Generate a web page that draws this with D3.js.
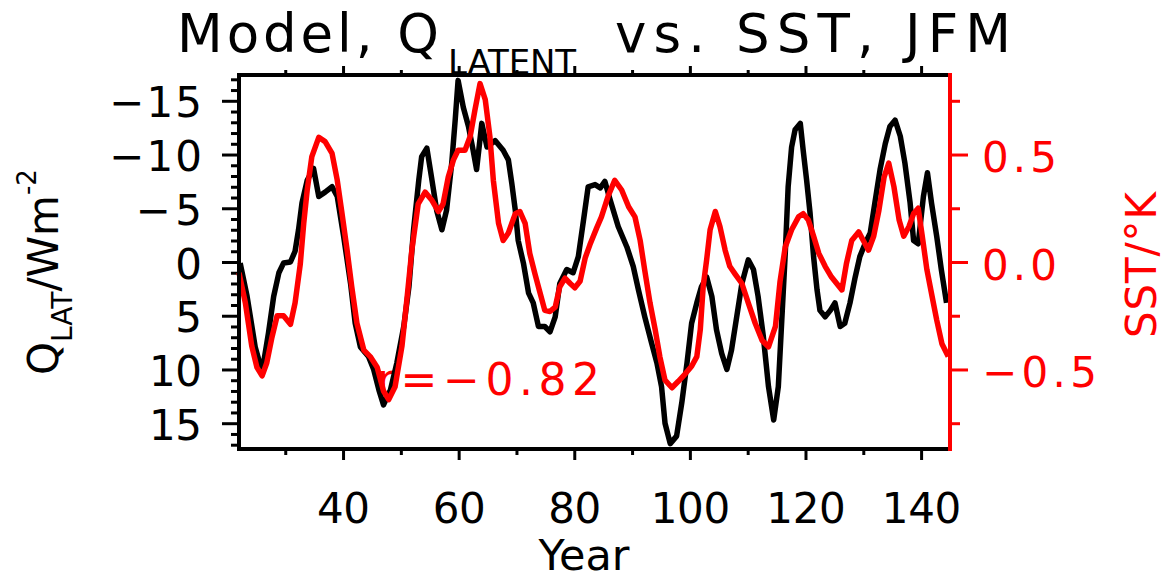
<!DOCTYPE html>
<html>
<head>
<meta charset="utf-8">
<script src="https://cdn.jsdelivr.net/npm/d3@7/dist/d3.min.js"></script>
<style>
  html, body { margin: 0; padding: 0; background: #fff; }
  svg { display: block; }
</style>
</head>
<body>
<script>
// Model latent heat flux (black, left axis, reversed) and SST anomaly (red, right axis), JFM
const qYear = [22.2,23.4,24.8,26.0,27.1,28.0,28.9,29.7,30.9,31.7,32.3,32.9,33.8,34.9,35.8,36.9,38.1,39.0,40.1,41.3,
  42.1,43.0,44.4,45.3,46.2,47.0,48.2,49.3,50.5,51.4,52.2,53.1,53.6,54.5,55.3,56.2,57.1,57.9,58.8,59.4,
  59.9,60.8,61.7,62.5,63.1,64.0,64.9,66.3,67.7,68.6,69.2,69.8,70.3,71.2,72.1,72.9,73.8,74.9,75.8,76.7,
  77.5,78.7,79.8,80.7,81.6,82.4,83.6,84.5,85.3,86.2,87.6,89.1,90.2,91.1,92.2,93.4,94.3,95.1,95.7,96.6,
  97.7,98.6,99.5,100.3,101.2,102.0,102.9,103.8,104.6,105.5,106.4,107.2,108.1,109.0,110.1,111.0,111.8,112.7,113.6,114.5,
  115.3,115.9,116.5,117.0,117.6,118.2,119.1,119.6,120.2,120.8,121.4,122.0,122.5,123.4,124.3,125.1,126.0,126.8,127.7,128.6,
  129.4,130.3,131.2,132.0,132.9,133.8,134.6,135.5,136.4,137.2,138.1,138.7,139.5,140.4,141.1,141.8,142.7,143.5,144.4];
const qFlux = [0.1,3.2,7.9,10.2,6.6,3.2,1.0,0.1,0.0,-1.0,-3.0,-5.5,-7.6,-8.7,-6.1,-6.5,-7.0,-6.1,-2.4,2.0,
  5.7,7.9,8.8,10.0,11.9,13.3,11.9,9.4,6.0,2.3,-3.0,-7.6,-9.8,-10.6,-7.9,-4.8,-3.0,-4.8,-9.2,-13.2,
  -16.9,-14.4,-12.6,-10.4,-8.6,-12.9,-10.7,-11.3,-10.4,-9.5,-7.3,-4.8,-2.0,0.1,2.9,3.8,6.0,6.0,6.5,5.1,
  2.0,0.7,1.0,-0.5,-3.9,-7.0,-7.2,-6.9,-7.5,-5.8,-3.3,-1.4,0.4,2.6,5.1,7.6,9.4,11.6,15.0,16.9,
  16.2,13.1,9.4,5.7,3.8,2.3,1.4,3.2,6.3,8.5,10.0,8.2,5.1,2.0,-0.2,0.7,3.2,6.9,11.6,14.7,
  11.6,5.4,-0.8,-7.0,-10.7,-12.3,-12.9,-10.4,-7.6,-4.5,-0.5,2.6,4.5,5.1,4.5,3.8,6.0,5.7,3.8,1.4,
  -0.5,-1.7,-2.7,-5.5,-8.6,-11.0,-12.6,-13.2,-11.7,-9.2,-5.5,-2.0,-1.7,-6.1,-8.3,-5.5,-2.4,0.7,3.8];

const sstYear = [22.0,23.1,24.2,25.1,26.0,26.8,27.7,28.6,29.7,30.9,31.7,32.6,33.2,33.8,34.6,35.8,36.9,38.1,39.0,39.8,
  40.7,41.5,42.4,43.6,44.7,45.9,47.0,47.9,49.0,50.2,51.1,51.9,53.0,54.2,55.3,56.5,57.3,58.2,59.1,59.9,
  61.1,62.0,62.8,63.7,64.6,65.4,66.0,66.9,67.7,68.6,69.8,70.6,71.5,72.3,73.2,74.1,74.9,75.8,76.7,77.5,
  78.4,79.3,80.1,81.0,81.9,82.7,83.9,84.7,85.9,87.0,88.2,89.4,90.5,91.4,92.2,93.1,94.0,94.8,95.7,96.9,
  98.0,99.2,100.3,101.2,101.8,102.3,102.9,103.5,104.4,105.2,106.1,106.9,107.8,109.0,110.1,111.3,112.5,113.6,114.8,115.6,
  116.5,117.6,118.8,119.6,120.5,121.4,122.3,123.4,124.5,125.4,126.3,127.1,128.0,129.2,130.0,130.9,131.8,132.7,133.6,134.4,
  135.3,136.2,137.0,137.9,138.7,139.5,140.2,141.0,141.9,142.7,143.6,144.7];
const sstAnom = [-0.05,-0.19,-0.39,-0.49,-0.53,-0.47,-0.35,-0.25,-0.25,-0.29,-0.19,-0.01,0.18,0.335,0.49,0.58,0.56,0.505,0.38,0.23,
  0.055,-0.115,-0.285,-0.41,-0.44,-0.49,-0.60,-0.64,-0.58,-0.39,-0.16,0.055,0.27,0.325,0.29,0.235,0.27,0.395,0.475,0.52,
  0.52,0.585,0.705,0.83,0.755,0.585,0.38,0.18,0.10,0.135,0.225,0.235,0.18,0.04,-0.055,-0.145,-0.225,-0.23,-0.21,-0.115,
  -0.075,-0.10,-0.12,-0.09,0.02,0.08,0.16,0.21,0.31,0.38,0.335,0.257,0.21,0.10,-0.04,-0.19,-0.315,-0.44,-0.55,-0.585,
  -0.555,-0.52,-0.485,-0.44,-0.315,-0.115,0.01,0.15,0.235,0.165,0.055,-0.02,-0.055,-0.10,-0.19,-0.285,-0.365,-0.395,-0.30,-0.09,
  0.07,0.15,0.21,0.225,0.195,0.12,0.04,-0.02,-0.07,-0.10,-0.13,-0.005,0.10,0.14,0.10,0.055,0.12,0.24,0.395,0.46,
  0.35,0.195,0.12,0.165,0.225,0.25,0.12,-0.035,-0.16,-0.27,-0.38,-0.44];

// Axis ticks
const xMajor = [40, 60, 80, 100, 120, 140];
const xMinor = [30, 50, 70, 90, 110, 130];
const qMajor = [-15, -10, -5, 0, 5, 10, 15];
const qMinor = [-17,-16,-14,-13,-12,-11,-9,-8,-7,-6,-4,-3,-2,-1,1,2,3,4,6,7,8,9,11,12,13,14,16,17];
const sstMajor = [-0.5, 0.0, 0.5];
const sstMinor = [-0.75, -0.25, 0.25, 0.75];

const corrLabel = "r=\u22120.82";

const FONT = "'DejaVu Sans', 'Liberation Sans', sans-serif";
const RED = "#ff0000";

const svg = d3.select("body").append("svg")
  .attr("width", 1168).attr("height", 582)
  .style("background", "#fff");

const x = d3.scaleLinear().domain([22, 145]).range([239, 950]);
const yQ = d3.scaleLinear().domain([-17.4, 17.4]).range([75, 449]);
const yT = d3.scaleLinear().domain([0.87, -0.87]).range([75, 449]);

// wide bitmap-style spacing for tick labels
const charW = c => (c === "." ? 22 : (c === "\u2212" || c === "-") ? 40 : 26.5);
const labelLen = s => d3.sum(Array.from(s), charW);

function styleLabels(g, size) {
  g.selectAll(".tick text")
    .attr("font-family", FONT)
    .attr("font-size", size)
    .each(function () {
      const t = d3.select(this);
      const s = t.text();
      if (s.length > 1) t.attr("textLength", labelLen(s)).attr("lengthAdjust", "spacing");
    });
}

// Title
svg.append("text").attr("x", 177).attr("y", 52)
  .attr("font-family", FONT).attr("font-size", 53)
  .attr("textLength", 262).attr("lengthAdjust", "spacing")
  .text("Model, Q");
svg.append("text").attr("x", 448).attr("y", 74)
  .attr("font-family", FONT).attr("font-size", 34)
  .attr("textLength", 128).attr("lengthAdjust", "spacing")
  .text("LATENT");
svg.append("text").attr("x", 615).attr("y", 52)
  .attr("font-family", FONT).attr("font-size", 53)
  .attr("textLength", 396).attr("lengthAdjust", "spacing")
  .text("vs. SST, JFM");

// Bottom axis
svg.append("g").attr("transform", "translate(0,449)")
  .call(d3.axisBottom(x).tickValues(xMinor).tickSize(6).tickFormat(""));
const gxMajor = svg.append("g").attr("transform", "translate(0,449)")
  .call(d3.axisBottom(x).tickValues(xMajor).tickSize(11).tickFormat(d3.format("d")));
gxMajor.selectAll(".tick text").attr("y", 74).attr("dy", null);
styleLabels(gxMajor, 42);

// Top axis
svg.append("g").attr("transform", "translate(0,75)")
  .call(d3.axisTop(x).tickValues(xMinor).tickSize(5).tickFormat(""));
svg.append("g").attr("transform", "translate(0,75)")
  .call(d3.axisTop(x).tickValues(xMajor).tickSize(9).tickFormat(""));

// Left axis (latent heat flux, positive downwards)
svg.append("g").attr("transform", "translate(239,0)")
  .call(d3.axisLeft(yQ).tickValues(qMinor).tickSize(8).tickFormat(""));
const gyMajor = svg.append("g").attr("transform", "translate(239,0)")
  .call(d3.axisLeft(yQ).tickValues(qMajor).tickSize(17).tickFormat(d3.format("d")));
gyMajor.selectAll(".tick text").attr("x", -37).attr("dy", 16);
styleLabels(gyMajor, 42);

// Right axis (SST)
svg.append("g").attr("transform", "translate(950,0)").attr("color", RED)
  .call(d3.axisRight(yT).tickValues(sstMinor).tickSize(10).tickFormat(""));
const grMajor = svg.append("g").attr("transform", "translate(950,0)").attr("color", RED)
  .call(d3.axisRight(yT).tickValues(sstMajor).tickSize(18).tickFormat(d3.format(".1f")));
grMajor.selectAll(".tick text").attr("x", 32).attr("dy", 17).attr("fill", RED);
styleLabels(grMajor, 42);

svg.selectAll(".domain").remove();
svg.selectAll(".tick line").attr("stroke-width", 3);

// Correlation label
svg.append("text").attr("x", 377).attr("y", 395)
  .attr("font-family", FONT).attr("font-size", 44).attr("fill", RED)
  .attr("textLength", 223).attr("lengthAdjust", "spacing")
  .text(corrLabel);

// Series
const qLine = d3.line().x((d, i) => x(qYear[i])).y(d => yQ(d));
const tLine = d3.line().x((d, i) => x(sstYear[i])).y(d => yT(d));

svg.append("path").datum(qFlux)
  .attr("d", qLine).attr("fill", "none")
  .attr("stroke", "#000").attr("stroke-width", 5.5).attr("stroke-linejoin", "round");
svg.append("path").datum(sstAnom)
  .attr("d", tLine).attr("fill", "none")
  .attr("stroke", RED).attr("stroke-width", 5.5).attr("stroke-linejoin", "round");

// Frame
svg.append("path")
  .attr("d", `M${x(145)},75 H${x(22)} V449 H${x(145)}`)
  .attr("fill", "none").attr("stroke", "#000").attr("stroke-width", 4);
svg.append("line")
  .attr("x1", x(145)).attr("x2", x(145)).attr("y1", 73).attr("y2", 451)
  .attr("stroke", RED).attr("stroke-width", 4);

// Axis titles
const lt = svg.append("text")
  .attr("transform", "translate(58,375) rotate(-90)")
  .attr("font-family", FONT).attr("font-size", 42).attr("fill", "#000");
lt.append("tspan").text("Q");
lt.append("tspan").attr("font-size", 28).attr("dy", 14).text("LAT");
lt.append("tspan").attr("dy", -14).text("/Wm");
lt.append("tspan").attr("font-size", 26).attr("dy", -22).text("-2");

svg.append("text")
  .attr("transform", "translate(1156,338) rotate(-90)")
  .attr("font-family", FONT).attr("font-size", 42).attr("fill", RED)
  .attr("textLength", 146).attr("lengthAdjust", "spacing")
  .text("SST/\u00b0K");

svg.append("text").attr("x", 584).attr("y", 570)
  .attr("text-anchor", "middle")
  .attr("font-family", FONT).attr("font-size", 43)
  .text("Year");
</script>
</body>
</html>
